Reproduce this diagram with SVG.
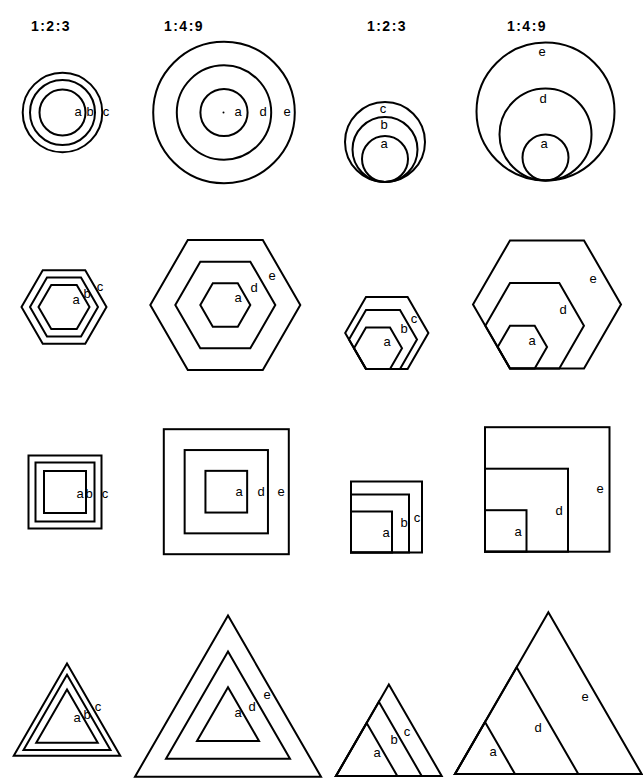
<svg xmlns="http://www.w3.org/2000/svg" width="643" height="783" viewBox="0 0 643 783">
<style>
.s{fill:none;stroke:#000;stroke-width:2;stroke-linejoin:miter}
.l{font-family:"Liberation Sans",Arial,sans-serif;font-size:13px;fill:#000;text-anchor:middle}
.h{font-family:"Liberation Sans",Arial,sans-serif;font-size:14px;font-weight:bold;fill:#000;text-anchor:middle;letter-spacing:1.5px}
</style>
<rect width="643" height="783" fill="#fff"/>
<g id="headers">
<text class="h" x="51" y="31">1:2:3</text>
<text class="h" x="184" y="31">1:4:9</text>
<text class="h" x="387" y="31">1:2:3</text>
<text class="h" x="527" y="31">1:4:9</text>
</g>
<g id="connectors"/>
<g id="circles-123-concentric">
<circle class="s" cx="62.5" cy="112.5" r="23"/>
<circle class="s" cx="62.5" cy="112.5" r="32.5"/>
<circle class="s" cx="62.5" cy="112.5" r="39.8"/>
<text class="l" x="78" y="116">a</text><text class="l" x="90" y="116">b</text><text class="l" x="106" y="116">c</text>
</g>
<g id="circles-149-concentric">
<circle class="s" cx="224" cy="112.5" r="23.6"/>
<circle class="s" cx="224" cy="112.5" r="47.2"/>
<circle class="s" cx="224" cy="112.5" r="70.8"/>
<circle cx="223.5" cy="112.5" r="1" fill="#000"/>
<text class="l" x="238" y="116">a</text><text class="l" x="263" y="116">d</text><text class="l" x="287" y="116">e</text>
</g>
<g id="circles-123-tangent">
<circle class="s" cx="385" cy="159" r="23"/>
<circle class="s" cx="385" cy="149.5" r="32.5"/>
<circle class="s" cx="385" cy="142" r="40"/>
<text class="l" x="383" y="113">c</text><text class="l" x="384" y="129">b</text><text class="l" x="384" y="148">a</text>
</g>
<g id="circles-149-tangent">
<circle class="s" cx="545.5" cy="157.5" r="23"/>
<circle class="s" cx="545.5" cy="134.5" r="46"/>
<circle class="s" cx="545.5" cy="111.5" r="69"/>
<text class="l" x="542" y="56">e</text><text class="l" x="543" y="103">d</text><text class="l" x="544" y="148">a</text>
</g>
<g id="hex-123-concentric">
<polygon class="s" points="38.5,307 51.25,284.92 76.75,284.92 89.5,307 76.75,329.08 51.25,329.08"/>
<polygon class="s" points="30,307 47,277.56 81,277.56 98,307 81,336.44 47,336.44"/>
<polygon class="s" points="21.5,307 42.75,270.19 85.25,270.19 106.5,307 85.25,343.81 42.75,343.81"/>
<text class="l" x="76" y="304">a</text><text class="l" x="87" y="298">b</text><text class="l" x="100" y="291">c</text>
</g>
<g id="hex-149-concentric">
<polygon class="s" points="200.3,305 212.8,283.35 237.8,283.35 250.3,305 237.8,326.65 212.8,326.65"/>
<polygon class="s" points="175.3,305 200.3,261.7 250.3,261.7 275.3,305 250.3,348.3 200.3,348.3"/>
<polygon class="s" points="150.3,305 187.8,240.05 262.8,240.05 300.3,305 262.8,369.95 187.8,369.95"/>
<text class="l" x="238" y="302">a</text><text class="l" x="254" y="292">d</text><text class="l" x="272" y="280">e</text>
</g>
<g id="hex-123-corner">
<polygon class="s" points="354,348.22 366,327.44 390,327.44 402,348.22 390,369 366,369"/>
<polygon class="s" points="349,339.56 366,310.12 400,310.12 417,339.56 400,369 366,369"/>
<polygon class="s" points="345.2,332.97 366,296.94 407.6,296.94 428.4,332.97 407.6,369 366,369"/>
<text class="l" x="387" y="346">a</text><text class="l" x="404" y="333">b</text><text class="l" x="414" y="323">c</text>
</g>
<g id="hex-149-corner">
<polygon class="s" points="497.65,347.11 510,325.72 534.7,325.72 547.05,347.11 534.7,368.5 510,368.5"/>
<polygon class="s" points="485.35,325.81 510,283.12 559.3,283.12 583.95,325.81 559.3,368.5 510,368.5"/>
<polygon class="s" points="473,304.41 510,240.41 584,240.41 621,304.41 584,368.5 510,368.5"/>
<text class="l" x="532" y="345">a</text><text class="l" x="563" y="314">d</text><text class="l" x="593" y="283">e</text>
</g>
<g id="square-123-concentric">
<rect class="s" x="44" y="471" width="42" height="42"/>
<rect class="s" x="35.5" y="462.5" width="59" height="59"/>
<rect class="s" x="28.5" y="455.5" width="73" height="73"/>
<text class="l" x="80" y="498">a</text><text class="l" x="89" y="498">b</text><text class="l" x="105" y="498">c</text>
</g>
<g id="square-149-concentric">
<rect class="s" x="205.45" y="470.85" width="41.7" height="41.7"/>
<rect class="s" x="184.65" y="450.05" width="83.3" height="83.3"/>
<rect class="s" x="163.8" y="429.2" width="125" height="125"/>
<text class="l" x="239" y="496">a</text><text class="l" x="261" y="496">d</text><text class="l" x="281" y="496">e</text>
</g>
<g id="square-123-corner">
<rect class="s" x="351" y="511.5" width="41" height="41"/>
<rect class="s" x="351" y="494.5" width="58" height="58"/>
<rect class="s" x="351" y="481.5" width="71" height="71"/>
<text class="l" x="386" y="537">a</text><text class="l" x="404" y="527">b</text><text class="l" x="417" y="522">c</text>
</g>
<g id="square-149-corner">
<rect class="s" x="485" y="510.2" width="41.5" height="41.5"/>
<rect class="s" x="485" y="468.7" width="83" height="83"/>
<rect class="s" x="485" y="427.2" width="124.5" height="124.5"/>
<text class="l" x="518" y="536">a</text><text class="l" x="559" y="515">d</text><text class="l" x="600" y="493">e</text>
</g>
<g id="triangle-123-concentric">
<polygon class="s" points="67,689.5 97.75,742.75 36.25,742.75"/>
<polygon class="s" points="67,674.77 110.5,750.11 23.5,750.11"/>
<polygon class="s" points="67,663.51 120.25,755.74 13.75,755.74"/>
<text class="l" x="77" y="722">a</text><text class="l" x="87" y="719">b</text><text class="l" x="98" y="711">c</text>
</g>
<g id="triangle-149-concentric">
<polygon class="s" points="228,687.2 259,740.9 197,740.9"/>
<polygon class="s" points="228,651.4 290,758.8 166,758.8"/>
<polygon class="s" points="228,615.6 321,776.7 135,776.7"/>
<text class="l" x="238" y="717">a</text><text class="l" x="252" y="711">d</text><text class="l" x="267" y="699">e</text>
</g>
<g id="triangle-123-corner">
<polygon class="s" points="366.65,722.91 397.3,776 336,776"/>
<polygon class="s" points="378.85,701.78 421.7,776 336,776"/>
<polygon class="s" points="388.85,684.46 441.7,776 336,776"/>
<text class="l" x="377" y="757">a</text><text class="l" x="394" y="744">b</text><text class="l" x="407" y="736">c</text>
</g>
<g id="triangle-149-corner">
<polygon class="s" points="485,722.04 515,774 455,774"/>
<polygon class="s" points="516.65,667.22 578.3,774 455,774"/>
<polygon class="s" points="548.35,612.31 641.7,774 455,774"/>
<text class="l" x="493" y="756">a</text><text class="l" x="538" y="732">d</text><text class="l" x="585" y="701">e</text>
</g>
</svg>
